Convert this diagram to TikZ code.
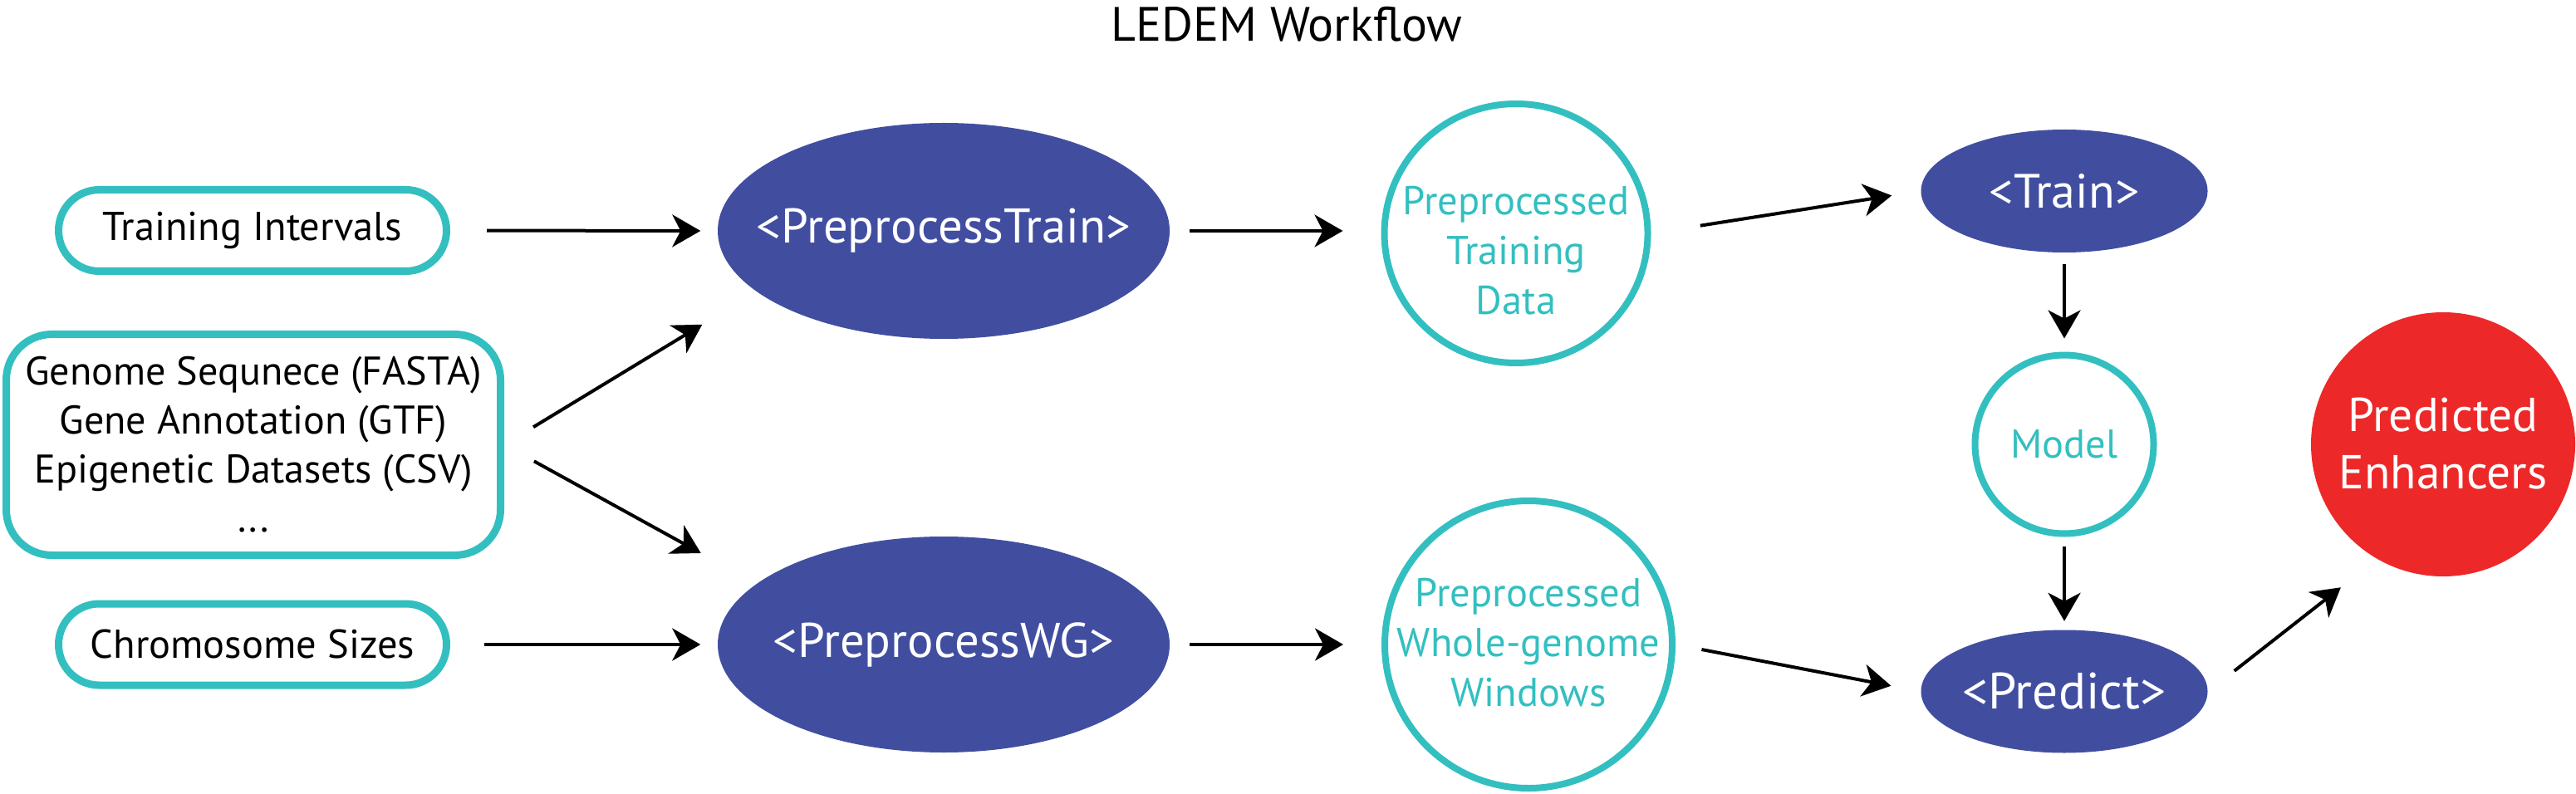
\documentclass[tikz,border=0pt]{standalone}
\usepackage{fontspec}
\setmainfont{PT Sans}
\usetikzlibrary{arrows.meta,shapes.geometric}
\definecolor{tealline}{RGB}{51,191,192}
\definecolor{navyfill}{RGB}{65,78,160}
\definecolor{redfill}{RGB}{237,40,41}
% text that does not change the size of its node
\newcommand\ctext[2][0pt]{\smash{\raisebox{#1}{\makebox[0pt]{\begin{tabular}{@{}c@{}}#2\end{tabular}}}}}

\begin{document}
\begin{tikzpicture}
    \tikzset{
        inbox/.style={draw=tealline, line width=0.09cm, rounded corners=0.49cm,
            minimum width=4.67cm, minimum height=0.98cm, inner sep=0pt, align=center,
            font=\fontsize{13.8}{16.8}\selectfont},
        procstep/.style={ellipse, fill=navyfill, text=white, inner sep=0pt,
            minimum width=5.44cm, minimum height=2.6cm, font=\fontsize{16.7}{20}\selectfont},
        smallstep/.style={procstep, minimum width=3.45cm, minimum height=1.48cm,
            font=\fontsize{16.5}{20}\selectfont},
        datanode/.style={ellipse, draw=tealline, line width=0.08cm, text=tealline,
            inner sep=0pt, font=\fontsize{13.8}{17.1}\selectfont},
        arr/.style={line width=0.04cm, -{Stealth[length=0.34cm, width=0.39cm, inset=0.1cm]}},
    }
    \useasboundingbox (0,0) rectangle (31.01,-9.56);

    \node (title) at (15.49,-0.29) {\fontsize{16.5}{20}\selectfont LEDEM Workflow};

    % inputs
    \node[inbox] (tin) at (3.04,-2.775) {Training Intervals};
    \node[inbox, minimum width=5.95cm, minimum height=2.66cm, rounded corners=0.55cm,
        font=\fontsize{13.7}{16.8}\selectfont] (gen) at (3.05,-5.355)
        {Genome Sequnece (FASTA)\\Gene Annotation (GTF)\\Epigenetic Datasets (CSV)\\...};
    \node[inbox] (chr) at (3.04,-7.76) {Chromosome Sizes};

    % preprocessing
    \node[procstep] (ppt) at (11.36,-2.78) {\makebox[0pt]{<PreprocessTrain>}};
    \node[procstep] (pwg) at (11.36,-7.76) {\makebox[0pt]{<PreprocessWG>}};

    \node[datanode, minimum width=3.17cm, minimum height=3.12cm] (ptd) at (18.25,-2.81)
        {\ctext[-0.38cm]{Preprocessed\\Training\\Data}};
    \node[datanode, minimum width=3.46cm, minimum height=3.46cm] (pww) at (18.40,-7.76)
        {\ctext[-0.15cm]{Preprocessed\\Whole-genome\\Windows}};

    % model
    \node[smallstep] (trn) at (24.85,-2.30) {\makebox[0pt]{<Train>}};
    \node[datanode, minimum width=2.15cm, minimum height=2.15cm,
        font=\fontsize{13.8}{17}\selectfont] (mdl) at (24.85,-5.35) {\makebox[0pt]{Model}};
    \node[smallstep, font=\fontsize{17.5}{20}\selectfont] (prd) at (24.85,-8.325)
        {\makebox[0pt]{<Predict>}};

    \node[ellipse, fill=redfill, text=white, inner sep=0pt,
        minimum width=3.18cm, minimum height=3.18cm,
        font=\fontsize{16.3}{19.6}\selectfont] (pen) at (29.41,-5.35)
        {\ctext[-0.2cm]{Predicted\\Enhancers}};

    % connectors
    \draw[arr, shorten <=0.44cm, shorten >=0.2cm] (tin.east) -- (ppt.west);
    \draw[arr, shorten <=0.41cm, shorten >=0.2cm] (chr.east) -- (pwg.west);
    \draw[arr, shorten <=0.41cm, shorten >=0.76cm] (gen.east) -- (ppt.198);
    \draw[arr, shorten <=0.41cm, shorten >=0.76cm] (gen.east) -- (pwg.162);
    \draw[arr, shorten <=0.23cm, shorten >=0.46cm] (ppt.east) -- (ppt.east -| ptd.west);
    \draw[arr, shorten <=0.23cm, shorten >=0.46cm] (pwg.east) -- (pwg.east -| pww.west);
    \draw[arr, shorten <=0.6cm, shorten >=0.35cm] (ptd.east) -- (trn.west);
    \draw[arr, shorten <=0.32cm, shorten >=0.36cm] (pww.east) -- (prd.west);
    \draw[arr, shorten <=0.13cm, shorten >=0.16cm] (trn.south) -- (mdl.north);
    \draw[arr, shorten <=0.11cm, shorten >=0.1cm] (mdl.south) -- (prd.north);
    \draw[arr, shorten <=0.4cm, shorten >=0.55cm] (prd.east) -- (pen.240);
\end{tikzpicture}
\end{document}
